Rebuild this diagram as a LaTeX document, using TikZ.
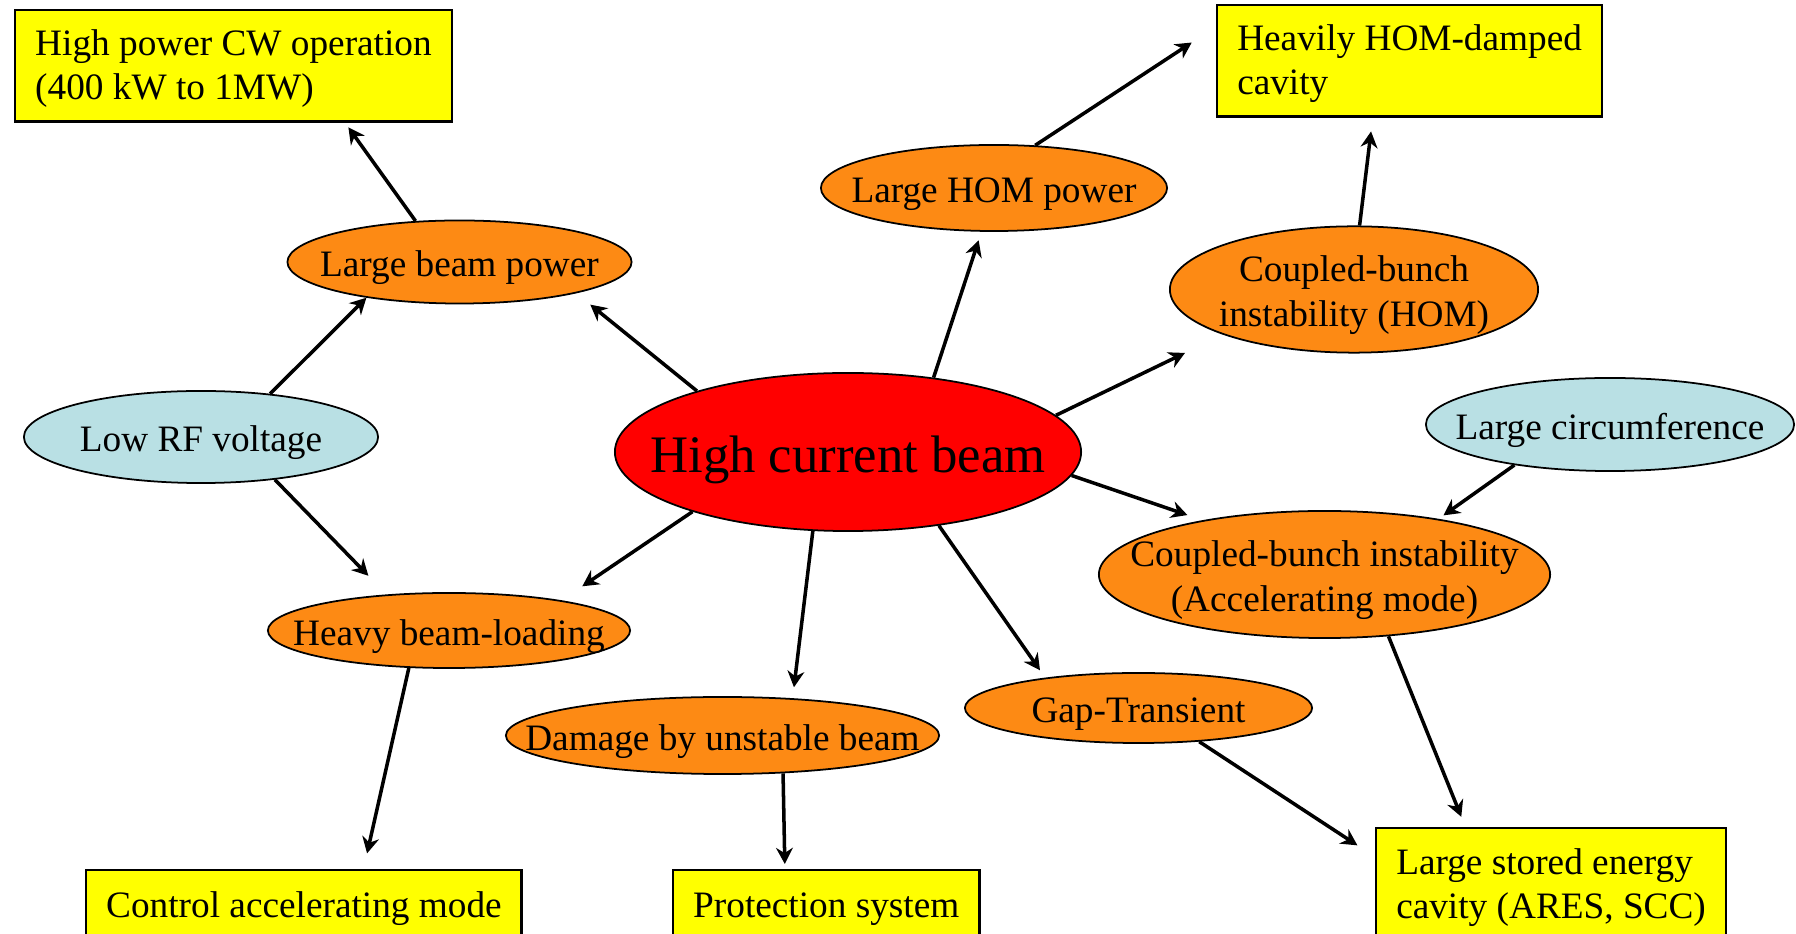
\documentclass[tikz,border=0pt]{standalone}
\usepackage{fontspec}
\setmainfont{Liberation Serif}
\usepackage{tikz}
\usetikzlibrary{arrows.meta, shapes}

\definecolor{causeorange}{RGB}{253,138,20}
\definecolor{causeblue}{RGB}{185,224,228}
\definecolor{beamred}{RGB}{255,0,0}
\definecolor{cureyellow}{RGB}{255,255,0}

\newcommand{\elltext}[1]{\makebox[0pt]{\raisebox{-0.15em}[\height][\depth]{\begin{tabular}{@{}c@{}}#1\end{tabular}}}}
\newcommand{\boxtext}[1]{\raisebox{-0.8pt}[\height][\depth]{\begin{tabular}{@{}l@{}}#1\end{tabular}}}

\begin{document}
\begin{tikzpicture}[x=0.01cm, y=-0.01cm, font=\fontsize{10.6}{12.7}\selectfont]
\useasboundingbox (0,0) rectangle (1796,934);

\begin{scope}[every node/.style={ellipse, draw, line width=0.5pt, inner sep=0pt, fill=causeorange}]
  \node[fill=beamred, minimum width=4.66cm, minimum height=1.58cm, font=\fontsize{15}{18}\selectfont] (hcb) at (848,452) {\elltext{High current beam}};
    \node[fill=causeblue, minimum width=3.54cm, minimum height=0.92cm] (lrf) at (201,437) {\elltext{Low RF voltage}};
    \node[fill=causeblue, minimum width=3.68cm, minimum height=0.93cm] (lcf) at (1610,424.5) {\elltext{Large circumference}};
    \node[minimum width=3.44cm, minimum height=0.83cm] (lbp) at (459.5,262) {\elltext{Large beam power}};
    \node[minimum width=3.46cm, minimum height=0.86cm] (lhp) at (994,188) {\elltext{Large HOM power}};
    \node[minimum width=3.68cm, minimum height=1.13cm] (cbh) at (1354,289.5) {\elltext{Coupled-bunch\\instability (HOM)}};
    \node[minimum width=4.51cm, minimum height=1.27cm] (cba) at (1324.5,574.5) {\elltext{Coupled-bunch instability\\(Accelerating mode)}};
    \node[minimum width=3.62cm, minimum height=0.75cm] (hbl) at (449,630.5) {\elltext{Heavy beam-loading}};
    \node[minimum width=4.33cm, minimum height=0.77cm] (dub) at (722.5,735.5) {\elltext{Damage by unstable beam}};
    \node[minimum width=3.47cm, minimum height=0.70cm] (gtr) at (1138.5,708) {\elltext{Gap-Transient}};
\end{scope}

\begin{scope}[every node/.style={rectangle, draw, line width=0.7pt, fill=cureyellow,
              inner xsep=2mm, inner ysep=0pt, anchor=north west}]
    \node[minimum height=1.11cm] (hpcw) at (14,9) {\boxtext{High power CW operation\\(400 kW to 1MW)}};
    \node[minimum height=1.11cm] (homd) at (1216,4) {\boxtext{Heavily HOM-damped\\cavity}};
    \node[minimum height=0.72cm] (cam) at (85,869) {\boxtext{Control accelerating mode}};
    \node[minimum height=0.72cm] (prot) at (672,869) {\boxtext{Protection system}};
    \node[minimum height=1.13cm] (lse) at (1375,827) {\boxtext{Large stored energy\\cavity (ARES, SCC)}};
\end{scope}

\begin{scope}[>={Stealth[length=4.6pt, width=4.8pt, inset=1.5pt]},
              every edge/.style={draw=black, line width=1pt}]
    \path[->] (lbp.137) edge[shorten >=0.6mm] (hpcw.-27);
    \path[->] (lrf.32) edge (lbp.-159);
    \path[->] (hcb.158) edge[shorten >=1.8mm] (lbp.-15);
    \path[->] (hcb.41) edge[shorten >=0.9mm] (lhp.-106);
    \path[->] (lhp.46) edge[shorten >=2.9mm] (homd.170);
    \path[->] (cbh.85) edge[shorten >=1.4mm] (homd.-123);
    \path[->] (hcb.10.5) edge[shorten >=4.2mm] (cbh.-161);
    \path[->] (hcb.-6) edge[shorten >=1.6mm] (cba.156);
    \path[->] (lcf.-157) edge[shorten >=0.6mm] (cba.26);
    \path[->] (hcb.-39.5) edge[shorten >=0.9mm] (gtr.162);
    \path[->] (cba.-44) edge[shorten >=1.1mm] (lse.146);
    \path[->] (gtr.-29) edge[shorten >=2.1mm] (lse.171);
    \path[->] (lrf.-30) edge[shorten >=2.6mm] (hbl.150);
    \path[->] (hcb.-159) edge[shorten >=2.5mm] (hbl.15);
    \path[->] (hcb.-114) edge[shorten >=1.1mm] (dub.28);
    \path[->] (hbl.-137) edge[shorten >=1.6mm] (cam.32);
    \path[->] (dub.-32) edge[shorten >=0.5mm] (prot.138);
\end{scope}

\end{tikzpicture}
\end{document}
